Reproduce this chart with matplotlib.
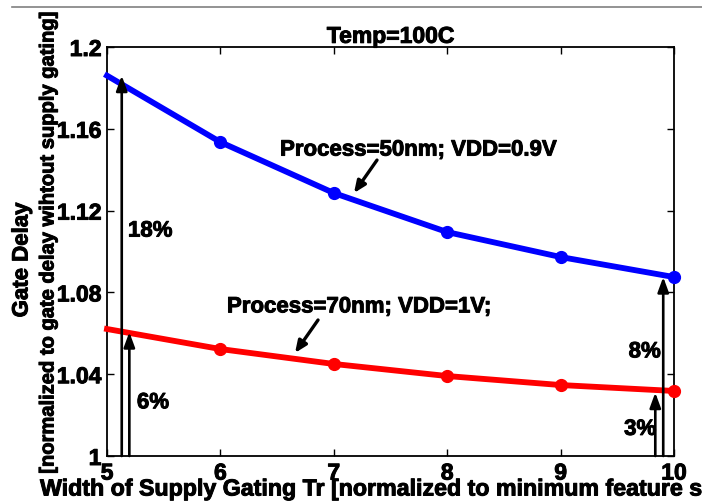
import matplotlib
matplotlib.use("Agg")
import matplotlib.pyplot as plt
from matplotlib.lines import Line2D
import matplotlib.patheffects as pe

plt.rcParams['font.family'] = ['Liberation Sans', 'DejaVu Sans']
plt.rcParams['font.weight'] = 'bold'

width = [5, 6, 7, 8, 9, 10]
delay_50nm = [1.186, 1.1535, 1.1286, 1.1095, 1.0973, 1.0875]
delay_70nm = [1.0621, 1.0523, 1.0450, 1.0391, 1.0347, 1.0318]
xticks = [5, 6, 7, 8, 9, 10]
yticks = [1.0, 1.04, 1.08, 1.12, 1.16, 1.2]
yticklabels = ['1', '1.04', '1.08', '1.12', '1.16', '1.2']

# percentage arrows: (x, top value, label, label x, label y)
pct_arrows = [
    (5.13, 1.186, '18%', 5.185, 1.110),
    (5.197, 1.0606, '6%', 5.264, 1.026),
    (9.905, 1.0875, '8%', 9.60, 1.0509),
    (9.835, 1.031, '3%', 9.56, 1.013),
]

HEAVY = [pe.withStroke(linewidth=0.7, foreground='black')]

fig = plt.figure(figsize=(7.02, 5.03), dpi=100)
ax = fig.add_axes([107/702, 1-456/503, 567/702, 409/503])

ax.plot(width, delay_50nm, color='#0000ff', lw=4.2, marker='o', ms=8.5,
        markevery=[1, 2, 3, 4, 5], clip_on=False, zorder=3)
ax.plot(width, delay_70nm, color='#ff0000', lw=4.2, marker='o', ms=8.5,
        markevery=[1, 2, 3, 4, 5], clip_on=False, zorder=3)

ax.set_xlim(5, 10)
ax.set_ylim(1.0, 1.2)
ax.set_xticks(xticks)
ax.set_xticklabels([str(v) for v in xticks])
ax.set_yticks(yticks)
ax.set_yticklabels(yticklabels)
ax.tick_params(direction='in', top=True, right=True, length=5, width=1,
               labelsize=16.5, pad=4)
for lab in ax.get_xticklabels() + ax.get_yticklabels():
    lab.set_fontweight('bold')
    lab.set_path_effects(HEAVY)
for s in ax.spines.values():
    s.set_linewidth(1.3)

for xa, ytop, lab, lx, ly in pct_arrows:
    ax.annotate('', xy=(xa, ytop), xytext=(xa, 1.0),
                arrowprops=dict(arrowstyle='-|>,head_length=0.9,head_width=0.33',
                                color='black', lw=1.9, shrinkA=0, shrinkB=0),
                annotation_clip=False, zorder=4)
    ax.text(lx, ly, lab, fontsize=16, fontweight='bold', ha='left', va='center',
            path_effects=HEAVY)

ax.text(6.526, 1.1496, 'Process=50nm; VDD=0.9V', fontsize=16, fontweight='bold',
        ha='left', va='center', path_effects=HEAVY)
ax.annotate('', xy=(7.178, 1.1286), xytext=(7.381, 1.1447),
            arrowprops=dict(arrowstyle='-|>,head_length=0.7,head_width=0.3',
                            color='black', lw=2.4, shrinkA=0, shrinkB=0))
ax.text(6.058, 1.0729, 'Process=70nm; VDD=1V;', fontsize=16, fontweight='bold',
        ha='left', va='center', path_effects=HEAVY)
ax.annotate('', xy=(6.658, 1.0504), xytext=(6.861, 1.0665),
            arrowprops=dict(arrowstyle='-|>,head_length=0.7,head_width=0.3',
                            color='black', lw=2.4, shrinkA=0, shrinkB=0))

ax.set_title('Temp=100C', fontsize=16.5, fontweight='bold', pad=3,
             path_effects=HEAVY)

fig.text(22/702, 1-260/503, 'Gate Delay', rotation=90, fontsize=16,
         fontweight='bold', ha='center', va='center', path_effects=HEAVY)
fig.text(48/702, 1-243/503, '[normalized to gate delay wihtout supply gating]',
         rotation=90, fontsize=14.5, fontweight='bold', ha='center', va='center',
         path_effects=HEAVY)
fig.text(40/702, 1-489/503,
         'Width of Supply Gating Tr [normalized to minimum feature size]',
         fontsize=16.7, fontweight='bold', ha='left', va='center',
         path_effects=HEAVY)

fig.add_artist(Line2D([12/702, 1.0], [1-7/503, 1-7/503], color='#808080', lw=1.2))

fig.savefig('out.png', dpi=100)
